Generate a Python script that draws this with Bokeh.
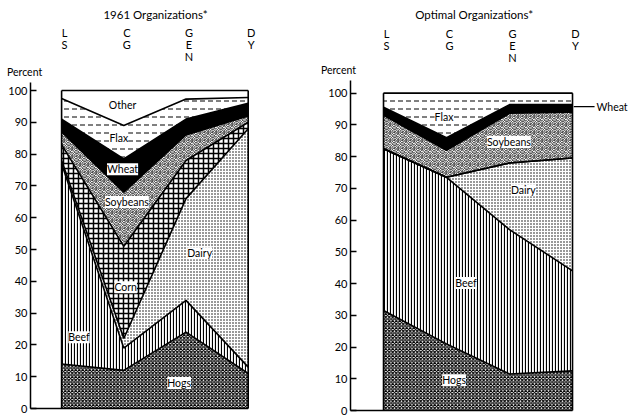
from bokeh.plotting import figure
from bokeh.models import ColumnDataSource, FixedTicker, Range1d, Label
from bokeh.layouts import row
from bokeh.embed import file_html
from bokeh.resources import INLINE

# ---------------- data ----------------
categories = ["LS", "CG", "GEN", "DY"]
series_names = ["Hogs", "Beef", "Dairy", "Corn", "Soybeans", "Wheat", "Flax", "Other"]

# 1961 organizations, percent of total
hogs_1961 = [14, 12, 24, 11]
beef_1961 = [63, 7, 10, 2]
dairy_1961 = [1, 3, 32, 75]
corn_1961 = [5, 29, 12, 2]
soybeans_1961 = [4, 17, 8, 2]
wheat_1961 = [4, 10.5, 5, 4]
flax_1961 = [6.5, 10.5, 6.3, 1.8]
other_1961 = [2.5, 11, 2.7, 2.2]

# Optimal organizations, percent of total
hogs_opt = [31.5, 21, 11.5, 12.5]
beef_opt = [51, 52.5, 45.5, 31.5]
dairy_opt = [0, 0, 21, 35.6]
corn_opt = [0, 0, 0, 0]
soybeans_opt = [10.5, 8.5, 15.7, 14.4]
wheat_opt = [2.6, 4, 2.7, 2.4]
flax_opt = [4.4, 14, 3.6, 3.6]
other_opt = [0, 0, 0, 0]

y_ticks = [0, 10, 20, 30, 40, 50, 60, 70, 80, 90, 100]

title_1961 = "1961 Organizations*"
title_opt = "Optimal Organizations*"

# ---------------- styles ----------------
FONT = "Lato"
styles = {
    "Hogs":     dict(fill="white", pattern="x", scale=3.5, weight=1.2),
    "Beef":     dict(fill="white", pattern="|", scale=3.0, weight=1.2),
    "Dairy":    dict(fill="white", pattern=".", scale=3.0, weight=1.0),
    "Corn":     dict(fill="white", pattern="+", scale=5.0, weight=1.5),
    "Soybeans": dict(fill="white", pattern="@", scale=8.0, weight=1.0),
    "Wheat":    dict(fill="black", pattern=" ", scale=1.0, weight=1.0),
    "Flax":     dict(fill="white", pattern='"', scale=8.0, weight=1.0),
    "Other":    dict(fill="white", pattern=" ", scale=1.0, weight=1.0),
}


def make_chart(title, values, labels, width, height, x_range, y_range, axis_x,
               axis_top, title_pos, rows_y, percent_pos, outside=None):
    xs = list(range(len(categories)))
    data = {"x": xs}
    for name, vals in zip(series_names, values):
        data[name] = vals
    src = ColumnDataSource(data)

    p = figure(width=width, height=height, x_range=Range1d(*x_range),
               y_range=Range1d(*y_range), x_axis_type=None,
               toolbar_location=None, output_backend="svg",
               min_border=0, min_border_left=0, min_border_right=0,
               min_border_top=0, min_border_bottom=0)
    p.outline_line_color = None
    p.grid.visible = False
    p.background_fill_color = "white"

    p.varea_stack(series_names, x="x", source=src,
                  fill_color=[styles[n]["fill"] for n in series_names],
                  hatch_pattern=[styles[n]["pattern"] for n in series_names],
                  hatch_scale=[styles[n]["scale"] for n in series_names],
                  hatch_weight=[styles[n]["weight"] for n in series_names],
                  hatch_color="black")

    # boundary lines between layers
    cum = [0.0] * len(xs)
    for vals in values:
        cum = [c + v for c, v in zip(cum, vals)]
        p.line(xs, cum, line_color="black", line_width=1.6)
    # box sides
    p.segment(x0=[xs[0], xs[-1]], y0=[0, 0], x1=[xs[0], xs[-1]], y1=[cum[0], cum[-1]],
              line_color="black", line_width=1.6)
    # bottom axis line
    p.segment(x0=[axis_x], y0=[0], x1=[xs[-1]], y1=[0], line_color="black", line_width=1.6)

    ax = p.yaxis[0]
    ax.fixed_location = axis_x
    ax.ticker = FixedTicker(ticks=y_ticks)
    ax.bounds = (0, axis_top)
    ax.minor_tick_line_color = None
    ax.major_tick_in = 6
    ax.major_tick_out = 0
    ax.major_label_standoff = 3
    ax.axis_line_width = 1.5
    ax.major_tick_line_width = 1.5
    ax.major_label_text_font = FONT
    ax.major_label_text_font_size = "11px"
    ax.major_label_text_color = "black"

    # title
    p.add_layout(Label(x=title_pos[0], y=title_pos[1], text=title, text_font=FONT,
                       text_font_size="11.5px", text_align="center",
                       text_baseline="middle", text_color="black"))
    # category letters
    for i, cat in enumerate(categories):
        for j, ch in enumerate(cat):
            p.add_layout(Label(x=xs[i], y=rows_y[j], text=ch, x_offset=3,
                               text_font=FONT, text_font_size="11px",
                               text_align="center", text_baseline="middle",
                               text_color="black"))
    p.add_layout(Label(x=percent_pos[0], y=percent_pos[1], text="Percent",
                       text_font=FONT, text_font_size="10.5px",
                       text_align="center", text_baseline="middle",
                       text_color="black"))

    # area labels
    for name, (lx, ly) in labels.items():
        p.add_layout(Label(x=lx, y=ly, text=name, text_font=FONT,
                           text_font_size="10.5px", text_align="center",
                           text_baseline="middle", text_color="black",
                           background_fill_color="white",
                           background_fill_alpha=1.0))
    if outside:
        name, (lx, ly) = outside
        p.segment(x0=[xs[-1] + 0.02], y0=[ly], x1=[lx - 0.03], y1=[ly],
                  line_color="black", line_width=1.2)
        p.add_layout(Label(x=lx, y=ly, text=name, text_font=FONT,
                           text_font_size="10.5px", text_align="left",
                           text_baseline="middle", text_color="black"))
    return p


labels_1961 = {
    "Other": (0.98, 95.3),
    "Flax": (0.92, 85.2),
    "Wheat": (0.98, 75.2),
    "Soybeans": (1.05, 64.9),
    "Corn": (1.03, 38.1),
    "Dairy": (2.22, 48.8),
    "Beef": (0.28, 22.4),
    "Hogs": (1.89, 8.0),
}
labels_opt = {
    "Flax": (0.96, 92.5),
    "Soybeans": (1.99, 84.6),
    "Dairy": (2.22, 69.4),
    "Beef": (1.31, 40.2),
    "Hogs": (1.12, 9.5),
}

vals_1961 = [hogs_1961, beef_1961, dairy_1961, corn_1961, soybeans_1961,
             wheat_1961, flax_1961, other_1961]
vals_opt = [hogs_opt, beef_opt, dairy_opt, corn_opt, soybeans_opt,
            wheat_opt, flax_opt, other_opt]

H = 415
# left panel: 62.2 px per category step, 3.18 px per percent
W1 = 310
x0_1 = -0.5 - 30 / 62.2
p1 = make_chart(title_1961, vals_1961, labels_1961, W1, H,
                x_range=(x0_1, x0_1 + W1 / 62.2),
                y_range=(-(H - 408) / 3.18, 100 + 90 / 3.18),
                axis_x=-0.5, axis_top=102.5,
                title_pos=(1.51, 123.9), rows_y=[118.2, 114.5, 110.7],
                percent_pos=(-0.595, 105.7))
# right panel: 63 px per category step, 3.173 px per percent
W2 = 318
x0_2 = -0.524 - 40 / 63.0
p2 = make_chart(title_opt, vals_opt, labels_opt, W2, H,
                x_range=(x0_2, x0_2 + W2 / 63.0),
                y_range=(-(H - 410) / 3.173, 100 + 92.7 / 3.173),
                axis_x=-0.524, axis_top=104,
                title_pos=(1.44, 124.8), rows_y=[118.8, 115.0, 111.25],
                percent_pos=(-0.714, 107.2),
                outside=("Wheat", (3.38, 95.8)))

layout = row(p1, p2, spacing=0)
open("out.html", "w").write(file_html(layout, INLINE))
